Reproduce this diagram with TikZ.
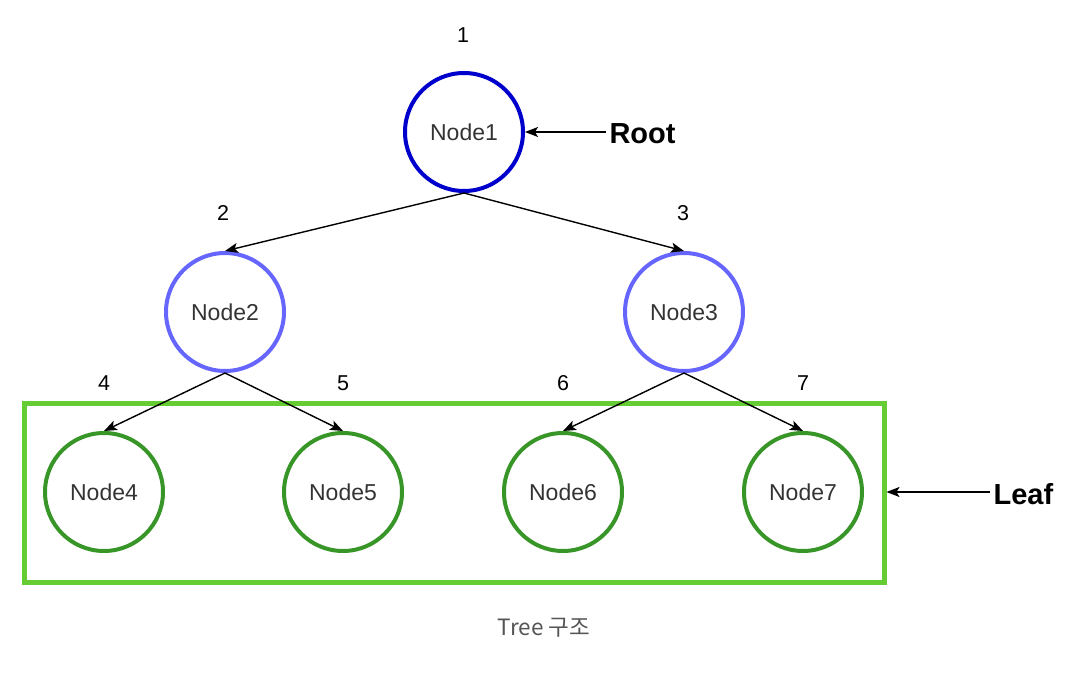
\documentclass[tikz,border=0pt]{standalone}
\usepackage{fontspec}
\setmainfont{Liberation Sans}
\newfontfamily\krfont{Noto Sans CJK KR}
\usetikzlibrary{arrows.meta}
\definecolor{rootblue}{RGB}{0,0,204}
\definecolor{midblue}{RGB}{102,102,255}
\definecolor{leafgreen}{RGB}{56,150,40}
\definecolor{boxgreen}{RGB}{102,204,51}
\definecolor{nodetext}{RGB}{51,51,51}
\definecolor{captiongray}{RGB}{85,85,85}
\tikzset{
  treenode/.style={circle, draw, line width=4pt, minimum size=118pt, inner sep=0pt,
    text=nodetext, font=\fontsize{23}{27}\selectfont},
  levelnum/.style={font=\fontsize{21.5}{25}\selectfont, text=black},
  tag/.style={font=\bfseries\fontsize{29}{34}\selectfont, text=black},
  link/.style={line width=1.4pt, -{Stealth[length=13pt,width=10pt,inset=3pt]}},
}
\begin{document}
\begin{tikzpicture}[x=1pt,y=-1pt]
\useasboundingbox (0,0) rectangle (1088,674);

% leaf group frame
\draw[boxgreen, line width=5pt] (24.5,403) rectangle (884,582);
\coordinate (boxeast) at (886.5,492);

% tree nodes
\node[treenode, draw=rootblue]  (n1) at (464,132) {Node1};
\node[treenode, draw=midblue]   (n2) at (225,312) {Node2};
\node[treenode, draw=midblue]   (n3) at (684,312) {Node3};
\node[treenode, draw=leafgreen] (n4) at (104,492) {Node4};
\node[treenode, draw=leafgreen] (n5) at (343,492) {Node5};
\node[treenode, draw=leafgreen] (n6) at (563,492) {Node6};
\node[treenode, draw=leafgreen] (n7) at (803,492) {Node7};

% level-order numbers
\node[levelnum] (l1) at (463,35) {1};
\node[levelnum] (l2) at (223,213) {2};
\node[levelnum] (l3) at (683,213) {3};
\node[levelnum] (l4) at (104,383) {4};
\node[levelnum] (l5) at (343,383) {5};
\node[levelnum] (l6) at (563,383) {6};
\node[levelnum] (l7) at (803,383) {7};

% edges
\draw[link] (n1.south) -- (n2.north);
\draw[link] (n1.south) -- (n3.north);
\draw[link] (n2.south) -- (n4.north);
\draw[link] (n2.south) -- (n5.north);
\draw[link] (n3.south) -- (n6.north);
\draw[link] (n3.south) -- (n7.north);

% annotations
\node[tag, anchor=west] (root) at (606,134) {Root};
\node[tag, anchor=west] (leaf) at (990,494) {Leaf};
\draw[link] (n1.east -| root.west) -- (n1.east);
\draw[link] (boxeast -| leaf.west) -- (boxeast);

% caption
\node[font=\krfont\fontsize{22.5}{27}\selectfont, text=captiongray] (cap) at (544,628) {Tree 구조};
\end{tikzpicture}
\end{document}
